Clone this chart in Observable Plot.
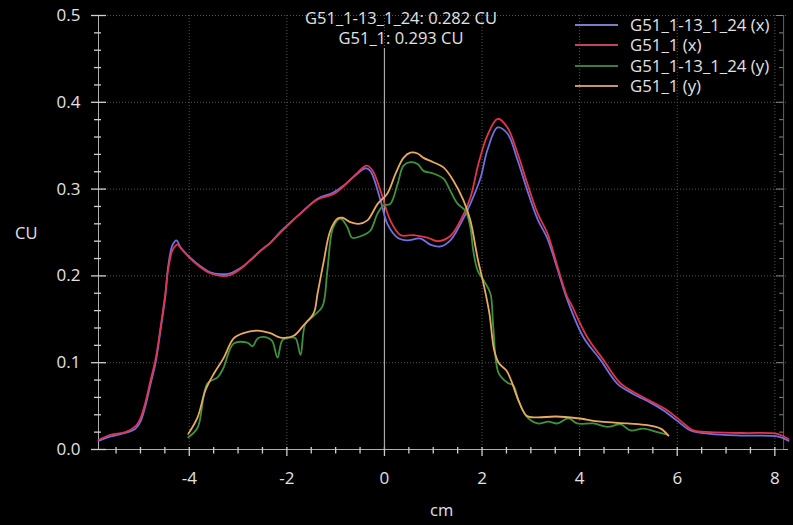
<!DOCTYPE html>
<html>
<head>
<meta charset="utf-8">
<script src="https://cdn.jsdelivr.net/npm/d3@7"></script>
<script src="https://cdn.jsdelivr.net/npm/@observablehq/plot@0.6"></script>
<style>
  body { margin: 0; background: #000; }
  #wrap { position: relative; width: 793px; height: 525px; background: #000; font-family: "Open Sans", sans-serif; color: #e2e2e2; overflow: hidden; }
  #wrap svg { position: absolute; left: 0; top: 0; }
  .ov { position: absolute; white-space: nowrap; font-size: 16.5px; line-height: 1; }
  .leg { position: absolute; left: 575px; width: 218px; }
  .leg .row { position: absolute; left: 0; height: 18px; display: flex; align-items: center; white-space: nowrap; }
  .leg .sw { width: 43px; height: 2px; margin-right: 12px; flex: none; }
  .leg .lb { font-size: 16.8px; line-height: 1; white-space: nowrap; }
</style>
</head>
<body>
<div id="wrap"></div>
<script>
// ---- data (cm, CU) ----
const seriesNames = ["G51_1-13_1_24 (x)", "G51_1 (x)", "G51_1-13_1_24 (y)", "G51_1 (y)"];
const seriesColors = ["#7070e0", "#e2344a", "#3d933d", "#e8aa5e"];
const legendColors = ["#7c7cc8", "#c84060", "#3f7a45", "#c8956a"];

const blueCm = [-5.86,-5.61,-5.31,-5.10,-5.00,-4.90,-4.80,-4.69,-4.59,-4.49,-4.43,-4.34,-4.26,-4.18,-3.98,-3.77,-3.57,-3.36,-3.16,-2.95,-2.75,-2.54,-2.34,-2.13,-1.72,-1.37,-1.05,-0.84,-0.55,-0.39,-0.29,-0.08,0.06,0.27,0.47,0.74,0.94,1.15,1.35,1.56,1.76,1.97,2.11,2.32,2.52,2.73,2.93,3.14,3.34,3.55,3.75,4.08,4.43,4.77,5.10,5.45,5.72,6.00,6.27,6.68,7.36,8.05,8.28];
const blueCu = [0.010,0.015,0.019,0.024,0.032,0.050,0.074,0.100,0.137,0.177,0.212,0.236,0.241,0.233,0.221,0.211,0.204,0.202,0.203,0.209,0.218,0.229,0.238,0.251,0.272,0.289,0.296,0.304,0.318,0.324,0.321,0.287,0.260,0.244,0.241,0.243,0.236,0.234,0.241,0.260,0.283,0.313,0.345,0.371,0.364,0.333,0.298,0.265,0.243,0.207,0.172,0.129,0.103,0.076,0.064,0.054,0.045,0.033,0.022,0.018,0.016,0.015,0.010];

const redCm = [-5.86,-5.61,-5.31,-5.10,-5.00,-4.90,-4.80,-4.69,-4.59,-4.49,-4.43,-4.34,-4.24,-4.16,-3.98,-3.77,-3.57,-3.36,-3.16,-2.95,-2.75,-2.54,-2.34,-2.13,-1.72,-1.37,-1.05,-0.84,-0.55,-0.37,-0.25,-0.08,0.12,0.33,0.60,0.88,1.10,1.35,1.56,1.76,1.93,2.11,2.32,2.52,2.73,2.93,3.14,3.34,3.55,3.75,3.82,4.16,4.49,4.84,5.18,5.51,5.80,6.07,6.33,6.68,7.36,8.05,8.28];
const redCu = [0.011,0.017,0.020,0.027,0.036,0.054,0.078,0.104,0.140,0.180,0.208,0.230,0.236,0.231,0.220,0.210,0.203,0.200,0.201,0.208,0.218,0.229,0.238,0.250,0.272,0.288,0.294,0.303,0.319,0.327,0.322,0.298,0.264,0.247,0.247,0.244,0.240,0.246,0.264,0.290,0.330,0.362,0.381,0.371,0.341,0.306,0.272,0.249,0.210,0.175,0.168,0.129,0.103,0.076,0.064,0.054,0.045,0.033,0.022,0.020,0.019,0.018,0.012];

const greenCm = [-4.02,-3.83,-3.63,-3.42,-3.30,-3.09,-2.81,-2.70,-2.60,-2.40,-2.30,-2.19,-2.09,-1.93,-1.82,-1.72,-1.62,-1.45,-1.27,-1.17,-1.05,-0.90,-0.76,-0.66,-0.43,-0.29,-0.14,-0.02,0.12,0.27,0.39,0.53,0.68,0.80,1.00,1.21,1.35,1.50,1.66,1.76,1.82,1.91,2.03,2.17,2.23,2.34,2.52,2.64,2.75,2.93,3.14,3.36,3.55,3.77,3.95,4.28,4.57,4.84,5.04,5.31,5.59,5.80];
const greenCu = [0.014,0.025,0.076,0.083,0.094,0.122,0.123,0.119,0.128,0.129,0.125,0.106,0.126,0.129,0.128,0.109,0.145,0.154,0.165,0.206,0.256,0.266,0.256,0.244,0.247,0.252,0.272,0.281,0.283,0.306,0.327,0.331,0.329,0.321,0.318,0.312,0.298,0.283,0.275,0.256,0.229,0.206,0.195,0.180,0.141,0.088,0.077,0.074,0.056,0.037,0.030,0.032,0.030,0.036,0.030,0.030,0.026,0.029,0.022,0.024,0.020,0.017];

const orangeCm = [-4.02,-3.83,-3.67,-3.50,-3.30,-3.09,-2.89,-2.60,-2.34,-2.13,-1.86,-1.66,-1.45,-1.37,-1.25,-1.11,-0.96,-0.86,-0.70,-0.53,-0.35,-0.14,0.06,0.23,0.39,0.53,0.68,0.80,1.00,1.21,1.41,1.62,1.76,1.91,2.03,2.15,2.25,2.35,2.50,2.60,2.75,2.91,3.11,3.52,3.95,4.43,4.98,5.39,5.66,5.82];
const orangeCu = [0.018,0.037,0.068,0.087,0.105,0.128,0.134,0.137,0.134,0.129,0.131,0.143,0.157,0.180,0.215,0.252,0.266,0.267,0.262,0.260,0.264,0.283,0.295,0.318,0.336,0.342,0.341,0.336,0.331,0.325,0.310,0.287,0.264,0.220,0.191,0.157,0.114,0.099,0.091,0.079,0.056,0.039,0.037,0.038,0.036,0.032,0.030,0.028,0.024,0.016];

const xMajor = [-4, -2, 0, 2, 4, 6, 8];
const yMajor = [0, 0.1, 0.2, 0.3, 0.4, 0.5];
const readouts = ["G51_1-13_1_24: 0.282 CU", "G51_1: 0.293 CU"];
const cursorCm = 0;
const xLabel = "cm";
const yLabel = "CU";

// ---- build ----
const xDomain = [-5.86, 8.28];
const yDomain = [0, 0.5];
const xMinor = d3.range(-5.5, 8.3, 0.5).filter(v => !xMajor.includes(v));
const yMinor = d3.range(0.02, 0.5, 0.02).map(v => +v.toFixed(2)).filter(v => !yMajor.some(m => Math.abs(m - v) < 1e-9));
const xRight = xDomain[1] - 0.1;
// tick lengths expressed in data units (≈ px / scale factor)
const cuPerPx = 0.5 / 434, cmPerPx = 14.14 / 690;

const rows = [];
[[blueCm, blueCu], [redCm, redCu], [greenCm, greenCu], [orangeCm, orangeCu]].forEach(([xs, ys], i) => {
  xs.forEach((x, j) => rows.push({series: seriesNames[i], x, y: ys[j]}));
});

const axisCol = "#cfcfcf";
const gridCol = "#555555";

const chart = Plot.plot({
  width: 793, height: 525,
  marginLeft: 98, marginRight: 5, marginTop: 15, marginBottom: 76,
  x: {domain: xDomain, axis: null},
  y: {domain: yDomain, axis: null},
  color: {domain: seriesNames, range: seriesColors},
  style: {background: "transparent", color: "#e2e2e2", fontFamily: "Open Sans", fontSize: "17px"},
  marks: [
    Plot.gridX(xMajor, {stroke: gridCol, strokeOpacity: 1, strokeDasharray: "1,2"}),
    Plot.gridY(yMajor.filter(v => v > 0), {stroke: gridCol, strokeOpacity: 1, strokeDasharray: "1,2"}),
    Plot.ruleY([0], {stroke: "#b0b0b0"}),
    Plot.ruleX([xDomain[0]], {stroke: "#b0b0b0"}),
    Plot.ruleX([xRight], {stroke: "#666"}),
    // x ticks (crossing the axis line)
    Plot.ruleX(xMinor, {y1: -4.5 * cuPerPx, y2: 2 * cuPerPx, stroke: axisCol, strokeWidth: 1.3}),
    Plot.ruleX(xMajor, {y1: -7 * cuPerPx, y2: 2 * cuPerPx, stroke: axisCol, strokeWidth: 1.3}),
    Plot.axisX(xMajor, {tickSize: 0, tickPadding: 22, tickFormat: d => d3.format("d")(d).replace("−", "-"), label: null, fill: "#e2e2e2", fontSize: 17}),
    // y ticks left
    Plot.ruleY(yMinor, {x1: xDomain[0] - 4 * cmPerPx, x2: xDomain[0] + 3 * cmPerPx, stroke: axisCol, strokeWidth: 1.3}),
    Plot.ruleY(yMajor, {x1: xDomain[0] - 7 * cmPerPx, x2: xDomain[0] + 8 * cmPerPx, stroke: axisCol, strokeWidth: 1.3}),
    Plot.axisY(yMajor, {tickSize: 0, tickPadding: 18, tickFormat: d => d.toFixed(1), label: null, fill: "#e2e2e2", fontSize: 17}),
    // y ticks right
    Plot.ruleY(yMinor, {x1: xRight - 4 * cmPerPx, x2: xRight, stroke: "#888"}),
    Plot.ruleY(yMajor, {x1: xRight - 7 * cmPerPx, x2: xRight, stroke: "#888"}),
    // cursor
    Plot.ruleX([cursorCm], {y1: 0, y2: 0.462, stroke: "#a8a8a8", strokeWidth: 1.2}),
    // curves
    Plot.line(rows, {x: "x", y: "y", z: "series", stroke: "series", strokeWidth: 1.8, curve: "catmull-rom"})
  ]
});

const wrap = document.getElementById("wrap");
wrap.appendChild(chart);

// readouts
const ro = [18, 38];
readouts.forEach((t, i) => {
  const d = document.createElement("div");
  d.className = "ov";
  d.textContent = t;
  d.style.left = "401px";
  d.style.top = (ro[i] - 8) + "px";
  d.style.transform = "translateX(-50%)";
  wrap.appendChild(d);
});

// axis titles
const yl = document.createElement("div");
yl.className = "ov"; yl.textContent = yLabel; yl.style.left = "15px"; yl.style.top = "225px"; yl.style.fontSize = "16.5px";
wrap.appendChild(yl);
const xl = document.createElement("div");
xl.className = "ov"; xl.textContent = xLabel; xl.style.left = "430px"; xl.style.top = "502px"; xl.style.fontSize = "16.5px";
wrap.appendChild(xl);

// legend
const leg = document.createElement("div");
leg.className = "leg";
leg.style.top = "0px";
const rowY = [25, 45, 66, 86];
seriesNames.forEach((n, i) => {
  const r = document.createElement("div");
  r.className = "row";
  r.style.top = (rowY[i] - 9) + "px";
  const sw = document.createElement("div");
  sw.className = "sw"; sw.style.background = legendColors[i];
  const lb = document.createElement("div");
  lb.className = "lb"; lb.textContent = n;
  r.appendChild(sw); r.appendChild(lb);
  leg.appendChild(r);
});
wrap.appendChild(leg);
</script>
</body>
</html>
